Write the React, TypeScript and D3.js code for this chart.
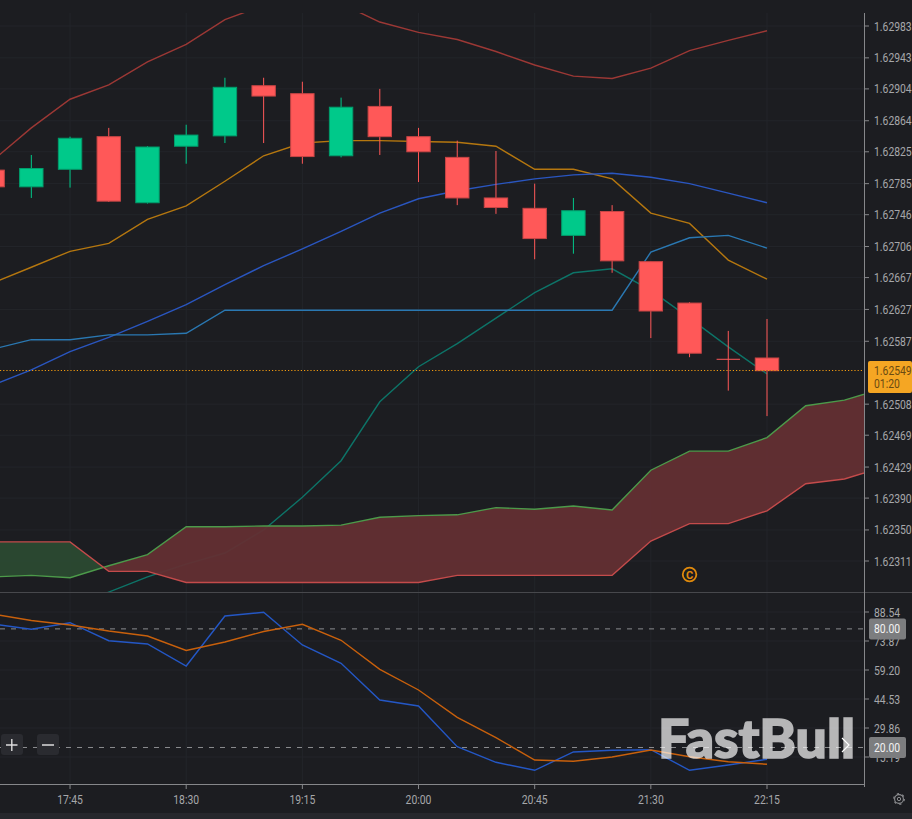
import * as d3 from 'd3';
import React from 'react';

const width = 912;
const height = 819;
const axisX = 864;
const mainTop = 13;
const mainBottom = 592;
const oscBottom = 784;

// 15 minute bars, the last three slots only carry the forward cloud
const times = [
    '17:15', '17:30', '17:45', '18:00', '18:15', '18:30', '18:45', '19:00',
    '19:15', '19:30', '19:45', '20:00', '20:15', '20:30', '20:45', '21:00',
    '21:15', '21:30', '21:45', '22:00', '22:15', '22:30', '22:45', '23:00',
];
const timeTicks = ['17:45', '18:30', '19:15', '20:00', '20:45', '21:30', '22:15'];

const opens = [1.62802, 1.62781, 1.62803, 1.62844, 1.62761, 1.62832, 1.62845, 1.62908, 1.62898, 1.6282, 1.62882, 1.62844, 1.62818, 1.62767, 1.62754, 1.6272, 1.6275, 1.62687, 1.62635, 1.62565, 1.62566];
const highs = [1.62808, 1.62821, 1.62844, 1.62855, 1.62832, 1.62859, 1.62918, 1.62918, 1.62913, 1.62893, 1.62904, 1.62855, 1.62839, 1.62826, 1.62785, 1.62767, 1.62758, 1.62687, 1.62636, 1.626, 1.62615];
const lows = [1.62775, 1.62767, 1.6278, 1.62762, 1.6276, 1.6281, 1.62836, 1.62836, 1.6281, 1.62818, 1.62821, 1.62787, 1.62758, 1.62747, 1.6269, 1.62697, 1.62673, 1.62591, 1.62567, 1.62525, 1.62493];
const closes = [1.62781, 1.62804, 1.62842, 1.62763, 1.62831, 1.62846, 1.62906, 1.62895, 1.62819, 1.62881, 1.62844, 1.62825, 1.62767, 1.62755, 1.62716, 1.62751, 1.62688, 1.62625, 1.62572, 1.62565, 1.6255];

const upperBand = [1.62814, 1.62855, 1.62891, 1.62909, 1.62938, 1.6296, 1.62991, 1.63009, 1.63019, 1.63011, 1.62988, 1.62975, 1.62966, 1.62951, 1.62934, 1.6292, 1.62917, 1.6293, 1.62952, 1.62965, 1.62977];
const midBand = [1.6266, 1.6268, 1.627, 1.6271, 1.6274, 1.62757, 1.62788, 1.6282, 1.62836, 1.62839, 1.62839, 1.62838, 1.62837, 1.62832, 1.62803, 1.62803, 1.62791, 1.62748, 1.62735, 1.62689, 1.62665];
const lowerBand = [1.62532, 1.62551, 1.62574, 1.62592, 1.62612, 1.62633, 1.62658, 1.62682, 1.62703, 1.62725, 1.62748, 1.62766, 1.62776, 1.62784, 1.62791, 1.62796, 1.62798, 1.62793, 1.62785, 1.62773, 1.62761];
const baseLine = [1.62577, 1.62589, 1.62589, 1.62595, 1.62595, 1.62597, 1.62626, 1.62626, 1.62626, 1.62626, 1.62626, 1.62626, 1.62626, 1.62626, 1.62626, 1.62626, 1.62626, 1.62699, 1.62717, 1.6272, 1.62704];
const tealLine = [1.62212, 1.62231, 1.6225, 1.62272, 1.62291, 1.62307, 1.62321, 1.6235, 1.62391, 1.62437, 1.62511, 1.62555, 1.62584, 1.62616, 1.62648, 1.62673, 1.62678, 1.62651, 1.62616, 1.6258, 1.62546];

const spanGreen = [1.62291, 1.62293, 1.6229, 1.62305, 1.62319, 1.62354, 1.62354, 1.62355, 1.62355, 1.62356, 1.62366, 1.62368, 1.62369, 1.62378, 1.62376, 1.6238, 1.62375, 1.62425, 1.62449, 1.62449, 1.62466, 1.62506, 1.62513, 1.62528];
const spanRed = [1.62335, 1.62335, 1.62335, 1.62298, 1.62298, 1.62284, 1.62284, 1.62284, 1.62284, 1.62284, 1.62284, 1.62284, 1.62293, 1.62293, 1.62293, 1.62293, 1.62293, 1.62336, 1.62358, 1.62358, 1.62374, 1.62408, 1.62414, 1.62429];

const stochK = [82.47, 79.79, 83.13, 74.02, 72.35, 61.23, 86.52, 88.39, 71.85, 62.59, 44.03, 40.99, 20.41, 12.51, 8.47, 17.73, 18.59, 18.89, 8.47, 11.15, 14.03];
const stochD = [87.53, 84.24, 81.96, 78.93, 76.4, 69.07, 73.37, 78.68, 82.32, 74.23, 59.56, 49.09, 35.28, 24.96, 13.68, 13.02, 15.2, 18.74, 15.35, 12.82, 11.51];

const priceTicks = ['1.62983', '1.62943', '1.62904', '1.62864', '1.62825', '1.62785', '1.62746', '1.62706', '1.62667', '1.62627', '1.62587', '1.62508', '1.62469', '1.62429', '1.62390', '1.62350', '1.62311'];
const oscTicks = ['88.54', '73.87', '59.20', '44.53', '29.86', '15.19'];
const oscLevels = ['80.00', '20.00'];
const lastPrice = '1.62549';
const countdown = '01:20';

const FONT = 'Roboto, "Noto Sans", sans-serif';
const BG = '#1c1d21';
const UP = '#00c98a';
const DOWN = '#ff5858';
const TICK_TEXT = '#a6a7aa';
const AXIS = '#86878a';

const x = d3.scalePoint<string>().domain(times).range([-7.4, -7.4 + 38.72 * (times.length - 1)]);
const y = d3.scaleLinear().domain([1.62983, 1.62311]).range([26, 561]);
const yOsc = d3.scaleLinear().domain([88.54, 15.19]).range([612, 757]);

// the axis labels are narrower than plain Roboto, so squeeze them a bit
const Label: React.FC<{ x: number; y: number; fill?: string; anchor?: 'start' | 'middle'; children: string }> = ({
    x: px,
    y: py,
    fill,
    anchor = 'start',
    children,
}) => (
    <text transform={`translate(${px},${py}) scale(0.865,1)`} fontSize={12} fill={fill} textAnchor={anchor}>
        {children}
    </text>
);

const App: React.FC = () => {
    const xi = (i: number) => x(times[i]) ?? 0;
    const line = d3.line<number>().x((_, i) => xi(i)).y((d) => y(d));
    const oscLine = d3.line<number>().x((_, i) => xi(i)).y((d) => yOsc(d));
    const lastY = Math.floor(y(closes[closes.length - 1])) + 0.5;

    // cloud, split where the two spans cross
    const cloud: { xp: number; green: number; red: number }[] = [];
    spanGreen.forEach((g, i) => {
        const r = spanRed[i];
        if (i > 0) {
            const d0 = spanGreen[i - 1] - spanRed[i - 1];
            const d1 = g - r;
            if (d0 * d1 < 0) {
                const t = d0 / (d0 - d1);
                const v = spanGreen[i - 1] + (g - spanGreen[i - 1]) * t;
                cloud.push({ xp: xi(i - 1) + (xi(i) - xi(i - 1)) * t, green: v, red: v });
            }
        }
        cloud.push({ xp: xi(i), green: g, red: r });
    });
    const greenArea = d3.area<(typeof cloud)[number]>()
        .x((d) => d.xp)
        .y0((d) => y(d.green))
        .y1((d) => y(Math.max(d.green, d.red)));
    const redArea = d3.area<(typeof cloud)[number]>()
        .x((d) => d.xp)
        .y0((d) => y(d.red))
        .y1((d) => y(Math.max(d.green, d.red)));

    return (
        <svg
            width={width}
            height={height}
            style={{ position: 'absolute', left: 0, top: 0, background: BG }}
            fontFamily={FONT}
        >
            <defs>
                <clipPath id="main-clip">
                    <rect x={0} y={mainTop} width={axisX} height={mainBottom - mainTop} />
                </clipPath>
                <clipPath id="osc-clip">
                    <rect x={0} y={mainBottom + 1} width={axisX} height={oscBottom - mainBottom - 1} />
                </clipPath>
            </defs>

            {/* grid */}
            <g stroke="#23252a" strokeWidth={1}>
                {priceTicks.map((t) => (
                    <line key={t} x1={0} x2={axisX} y1={y(+t)} y2={y(+t)} />
                ))}
                {oscTicks.map((t) => (
                    <line key={t} x1={0} x2={axisX} y1={yOsc(+t)} y2={yOsc(+t)} />
                ))}
                {timeTicks.map((t) => (
                    <line key={t} x1={x(t)} x2={x(t)} y1={mainTop} y2={oscBottom} />
                ))}
            </g>

            <g clipPath="url(#main-clip)" fill="none" strokeWidth={1.4}>
                <path d={line(tealLine) ?? ''} stroke="#0d7468" />
                <path d={greenArea(cloud) ?? ''} fill="#2b4a31" fillOpacity={0.95} stroke="none" />
                <path d={redArea(cloud) ?? ''} fill="#632f33" fillOpacity={0.95} stroke="none" />
                <path d={line(spanGreen) ?? ''} stroke="#4c9a4a" />
                <path d={line(spanRed) ?? ''} stroke="#c44b4b" />
                <path d={line(upperBand) ?? ''} stroke="#9c3835" />
                <path d={line(midBand) ?? ''} stroke="#b5770f" />
                <path d={line(lowerBand) ?? ''} stroke="#2a56c0" />
                <path d={line(baseLine) ?? ''} stroke="#2a78b2" />

                {opens.map((o, i) => {
                    const c = closes[i];
                    const color = c > o ? UP : DOWN;
                    const top = y(Math.max(o, c));
                    const bottom = y(Math.min(o, c));
                    return (
                        <g key={times[i]}>
                            <line x1={xi(i)} x2={xi(i)} y1={y(highs[i])} y2={y(lows[i])} stroke={color} strokeWidth={1} />
                            <rect
                                x={xi(i) - 11.7}
                                y={top}
                                width={23.4}
                                height={Math.max(bottom - top, 1)}
                                fill={color}
                                stroke={d3.color(color)?.darker(0.7).formatHex()}
                                strokeWidth={bottom - top < 1 ? 0 : 1}
                            />
                        </g>
                    );
                })}

                <line x1={0} x2={axisX} y1={lastY} y2={lastY} stroke="#f09a10" strokeWidth={1} strokeDasharray="1.2 2" />
            </g>

            {/* copyright mark */}
            <circle cx={xi(18)} cy={574.5} r={6.8} fill="none" stroke="#e08a0c" strokeWidth={1.8} />
            <text x={xi(18)} y={578.5} textAnchor="middle" fontSize={11} fontWeight={700} fill="#e08a0c">C</text>

            {/* oscillator */}
            <g stroke="#8b8c8f" strokeWidth={1} strokeDasharray="5 6">
                {oscLevels.map((t) => (
                    <line key={t} x1={0} x2={axisX} y1={yOsc(+t)} y2={yOsc(+t)} />
                ))}
            </g>
            <g clipPath="url(#osc-clip)" fill="none" strokeWidth={1.4}>
                <path d={oscLine(stochK) ?? ''} stroke="#2457c5" />
                <path d={oscLine(stochD) ?? ''} stroke="#c8600c" />
            </g>

            {/* watermark */}
            <g opacity={0.68}>
                <text
                    x={658}
                    y={757.5}
                    fontFamily="Lato, Inter, sans-serif"
                    fontSize={54}
                    fontWeight={900}
                    fill="#ffffff"
                    stroke="#ffffff"
                    strokeWidth={1.6}
                    textLength={197}
                    lengthAdjust="spacingAndGlyphs"
                >
                    FastBull
                </text>
            </g>
            <path d="M842 738 L849 745 L842 752" fill="none" stroke="#ffffff" strokeWidth={1.2} />

            {/* zoom buttons */}
            <rect x={1} y={734} width={22} height={21} rx={3} fill="#2a2b30" />
            <rect x={37} y={734} width={22} height={21} rx={3} fill="#2a2b30" />
            <path d="M6 745 H17.5 M11.8 739 V751 M42 745 H54" stroke="#dcdcdc" strokeWidth={1.4} fill="none" />

            {/* frame */}
            <line x1={0} x2={width} y1={592.5} y2={592.5} stroke="#47484c" />
            <line x1={0} x2={axisX} y1={oscBottom + 0.5} y2={oscBottom + 0.5} stroke={AXIS} />
            <line x1={axisX + 0.5} x2={axisX + 0.5} y1={mainTop} y2={oscBottom + 3} stroke={AXIS} />

            {/* price axis */}
            {priceTicks.map((t) => (
                <g key={t}>
                    <line x1={axisX} x2={axisX + 5} y1={y(+t)} y2={y(+t)} stroke={AXIS} />
                    <Label x={874} y={y(+t) + 4.5} fill={TICK_TEXT}>{t}</Label>
                </g>
            ))}
            {oscTicks.map((t) => (
                <g key={t}>
                    <line x1={axisX} x2={axisX + 5} y1={yOsc(+t)} y2={yOsc(+t)} stroke={AXIS} />
                    <Label x={874} y={yOsc(+t) + 4.5} fill={TICK_TEXT}>{t}</Label>
                </g>
            ))}
            {oscLevels.map((t) => (
                <g key={t}>
                    <rect x={869} y={yOsc(+t) - 10.5} width={37} height={21} rx={2} fill="#7c7d7f" />
                    <Label x={874} y={yOsc(+t) + 4.5} fill="#f2f2f2">{t}</Label>
                </g>
            ))}

            {/* last price tag */}
            <rect x={868} y={361} width={44} height={32} rx={2} fill="#f5a623" />
            <Label x={874} y={375} fill="#6a4a12">{lastPrice}</Label>
            <Label x={874} y={387.5} fill="#6a4a12">{countdown}</Label>

            {/* time axis */}
            {timeTicks.map((t) => (
                <g key={t}>
                    <line x1={x(t)} x2={x(t)} y1={oscBottom} y2={oscBottom + 5} stroke={AXIS} />
                    <Label x={x(t) ?? 0} y={804} fill={TICK_TEXT} anchor="middle">{t}</Label>
                </g>
            ))}

            {/* settings gear */}
            <g fill="none" stroke="#8c8d90">
                <circle cx={899} cy={799} r={4.4} strokeWidth={1.1} />
                <circle cx={899} cy={799} r={1.7} strokeWidth={1} />
                <circle cx={899} cy={799} r={5.3} strokeWidth={1.2} strokeDasharray="2.2 3.35" />
            </g>

            {/* bottom strip */}
            <rect x={0} y={813} width={width} height={6} fill="#26272c" />
        </svg>
    );
};

export default App;
